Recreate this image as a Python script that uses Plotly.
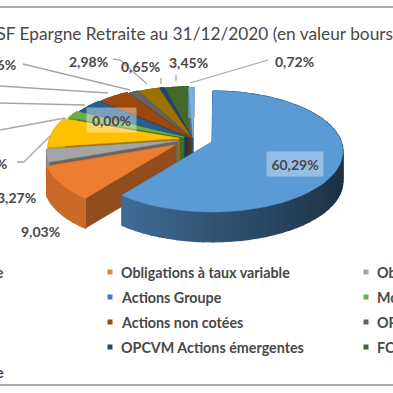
import math
import plotly.graph_objects as go

# ---- data ----
categories = ["Obligations à taux fixe", "Obligations à taux variable", "Obligations convertibles",
              "Actions zone euro", "Actions Groupe", "Monétaire", "Actions internationales",
              "Actions non cotées", "OPCVM Actions Europe", "OPCVM Diversifiés",
              "OPCVM Actions émergentes", "FCPR", "Trésorerie"]
values = [60.29, 9.03, 3.27, 7.95, 0.00, 2.00, 3.90, 4.40, 1.36, 2.98, 0.65, 3.45, 0.72]
value_labels = ["60,29%", "9,03%", "3,27%", "7,95%", "0,00%", "2,00%", "3,90%", "4,40%", "1,36%",
                "2,98%", "0,65%", "3,45%", "0,72%"]
colors = ["#5B9BD5", "#ED7D31", "#A5A5A5", "#FFC000", "#4472C4", "#70AD47", "#255E91",
          "#9E480E", "#636363", "#997300", "#264478", "#43682B", "#7CAFDD"]

# ---- styling / geometry of the projection ----
explode = [20, 22, 16, 14, 10, 10, 8, 7, 5, 4, 4, 3, 1]
CX, CY = 193, 139
RX, RY = 129.4, 59
PERSP = 0.156
ROT = math.radians(0.5)
DEPTH = 30
TEXT = "#484848"
FONT = "Lato"

# pixel layout of labels: (x, y, anchor), and connector polylines
label_pos = [(268, 164, "left"), (20, 231, "left"), (37, 198, "right"), (8, 163, "right"),
             (91, 120, "left"), (-12, 130, "right"), (-12, 103, "right"), (-12, 86, "right"),
             (17, 65, "right"), (68, 61, "left"), (120, 66, "left"), (168, 63, "left"), (274, 62, "left")]
connectors = {3: [(17, 162), (24, 162), (50, 136)], 5: [(0, 130), (65, 118)], 6: [(0, 103), (85, 105)],
              7: [(0, 86), (108, 93)], 8: [(23, 64), (130, 90)], 9: [(113, 59), (120, 60), (147, 84)],
              10: [(161, 78), (161, 84)], 11: [(176, 75), (176, 81)], 12: [(268, 60), (190, 83)]}
legend_rows = [272, 297, 322, 347, 372]
legend_cols = [(-150, -140), (110, 120), (366, 376)]


def shade(hex_color, f):
    r, g, b = [int(hex_color[i:i + 2], 16) for i in (1, 3, 5)]
    return f"rgb({int(r * f)},{int(g * f)},{int(b * f)})"


fig = go.Figure()


def poly(pts, color, width=0.6):
    fig.add_trace(go.Scatter(x=[p[0] for p in pts] + [pts[0][0]], y=[p[1] for p in pts] + [pts[0][1]],
                             mode="lines", fill="toself", fillcolor=color,
                             line=dict(color=color, width=width), hoverinfo="skip", showlegend=False))


# angular spans from values
total = sum(values)
spans, acc = [], 0.0
for v in values:
    a0 = acc / total * 2 * math.pi + ROT
    acc += v
    spans.append((a0, acc / total * 2 * math.pi + ROT))


def geom(i):
    a0, a1 = spans[i]
    mid = (a0 + a1) / 2
    ax = CX + explode[i] * math.sin(mid)
    ay = CY - explode[i] * RY / RX * math.cos(mid)
    return a0, a1, ax, ay


def rim(ax, ay, a):
    d = 1 + PERSP * math.cos(a)
    return (ax + RX * math.sin(a) / d, ay - RY * math.cos(a) / d)


# painter's order: back slices first, then left, then orange and the big slice
order = [11, 12, 10, 9, 8, 7, 6, 5, 3, 2, 1, 0]
for i in order:
    if values[i] == 0:
        continue
    a0, a1, ax, ay = geom(i)
    apex = (ax, ay)
    col = colors[i]
    n = max(2, int((a1 - a0) / 0.06))
    angs = [a0 + (a1 - a0) * k / n for k in range(n + 1)]
    for a in (a0, a1):
        r = rim(ax, ay, a)
        poly([apex, r, (r[0], r[1] + DEPTH), (apex[0], apex[1] + DEPTH)], shade(col, 0.62))
    for k in range(n):
        p, q = rim(ax, ay, angs[k]), rim(ax, ay, angs[k + 1])
        # side shading: lighter on the left, darker on the right
        lum = 0.55 - 0.25 * math.sin((angs[k] + angs[k + 1]) / 2) if i == 0 else 0.85
        poly([p, q, (q[0], q[1] + DEPTH), (p[0], p[1] + DEPTH)], shade(col, min(lum, 1)), 1.2)
    poly([apex] + [rim(ax, ay, a) for a in angs], col)

# connectors
for i, pts in connectors.items():
    fig.add_trace(go.Scatter(x=[p[0] for p in pts], y=[p[1] for p in pts], mode="lines",
                             line=dict(color="#A6A6A6", width=1.3), hoverinfo="skip", showlegend=False))

# legend markers
for idx, c in enumerate(colors):
    col = idx % 3
    row = idx // 3
    fig.add_trace(go.Scatter(x=[legend_cols[col][0]], y=[legend_rows[row]], mode="markers",
                             marker=dict(symbol="square", size=5, color=c), hoverinfo="skip", showlegend=False))

ann = []


def text(x, y, s, anchor="left", size=13, bold=False, **kw):
    ann.append(dict(xref="paper", yref="paper", x=x / 393, y=1 - y / 393,
                    text=f"<b>{s}</b>" if bold else s, showarrow=False,
                    xanchor=anchor, yanchor="middle", font=dict(family=FONT, size=size, color=TEXT),
                    borderpad=0, **kw))


text(-15, 33, "PSF Epargne Retraite au 31/12/2020 (en valeur boursière)", size=17.3)
for i, (x, y, anc) in enumerate(label_pos):
    if i in (0, 4):
        continue
    text(x, y, value_labels[i], anc, 14, True)
text(295, 164, value_labels[0], "center", 14, True, bgcolor="rgba(255,255,255,0.35)", width=56, height=24)
text(111, 120, value_labels[4], "center", 14, True, bgcolor="rgba(255,255,255,0.40)", width=49, height=24)

for idx, name in enumerate(categories):
    col = idx % 3
    row = idx // 3
    if col == 0:
        text(5, legend_rows[row], name if row in (0, 4) else "", "right", 14.3, True)
    else:
        text(legend_cols[col][1], legend_rows[row], name, "left", 14.3, True)

fig.update_layout(width=393, height=393, margin=dict(l=0, r=0, t=0, b=0), paper_bgcolor="white",
                  plot_bgcolor="white", font=dict(family=FONT), annotations=ann,
                  xaxis=dict(range=[0, 393], visible=False, fixedrange=True),
                  yaxis=dict(range=[393, 0], visible=False, fixedrange=True),
                  shapes=[dict(type="line", xref="x", yref="y", x0=0, x1=393, y0=7, y1=7,
                               line=dict(color="#8C8C8C", width=1.5)),
                          dict(type="line", xref="x", yref="y", x0=0, x1=393, y0=385, y1=385,
                               line=dict(color="#8C8C8C", width=1.5))])
fig.write_html("out.html", config=dict(displayModeBar=False),
               post_script="document.body.style.margin='0';document.body.style.overflow='hidden';")
